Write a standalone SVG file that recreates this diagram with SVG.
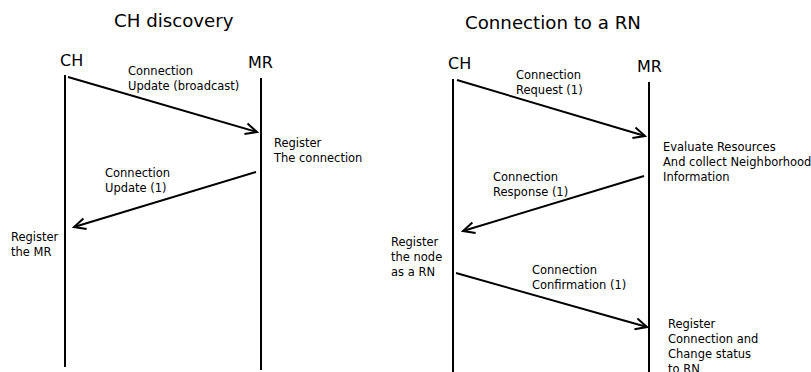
<svg xmlns="http://www.w3.org/2000/svg" width="811" height="372" viewBox="0 0 811 372">
<style>
  .title { font-family: "DejaVu Sans", sans-serif; font-size: 18.2px; fill: #000; }
  .actor { font-family: "DejaVu Sans", sans-serif; font-size: 16px; fill: #000; }
  .lbl { font-family: "DejaVu Sans", sans-serif; font-size: 11.5px; fill: #000; }
  .life { stroke: #000; stroke-width: 2; fill: none; }
  .msg { stroke: #000; stroke-width: 2; fill: none; marker-end: url(#arr); }
</style>
<defs>
  <marker id="arr" markerUnits="userSpaceOnUse" markerWidth="16" markerHeight="16" viewBox="-14 -8 16 16" refX="0" refY="0" orient="auto">
    <path d="M-11.5,-5.5 L0,0 L-11.5,5.5" fill="none" stroke="#000" stroke-width="2"/>
  </marker>
</defs>
<rect width="811" height="372" fill="#fff"/>

<text class="title" x="114" y="27">CH discovery</text>
<text class="title" x="465" y="29">Connection to a RN</text>

<g id="ch1">
  <text class="actor" x="60" y="66">CH</text>
  <line class="life" x1="65" y1="75" x2="65" y2="367"/>
</g>
<g id="mr1">
  <text class="actor" x="248" y="68">MR</text>
  <line class="life" x1="261" y1="78" x2="261" y2="370"/>
</g>
<g id="ch2">
  <text class="actor" x="448" y="69">CH</text>
  <line class="life" x1="453" y1="79" x2="453" y2="372"/>
</g>
<g id="mr2">
  <text class="actor" x="637" y="72">MR</text>
  <line class="life" x1="649" y1="82" x2="649" y2="372"/>
</g>

<g id="notes">
  <text class="lbl" x="274" y="147">Register</text>
  <text class="lbl" x="274" y="162">The connection</text>
  <text class="lbl" x="11" y="241">Register</text>
  <text class="lbl" x="11" y="256">the MR</text>
  <text class="lbl" x="663" y="151">Evaluate Resources</text>
  <text class="lbl" x="663" y="166">And collect Neighborhood</text>
  <text class="lbl" x="663" y="181">Information</text>
  <text class="lbl" x="391" y="246">Register</text>
  <text class="lbl" x="391" y="261">the node</text>
  <text class="lbl" x="391" y="276">as a RN</text>
  <text class="lbl" x="668" y="328">Register</text>
  <text class="lbl" x="668" y="343">Connection and</text>
  <text class="lbl" x="668" y="358">Change status</text>
  <text class="lbl" x="668" y="373">to RN</text>
</g>

<g id="connectors">
  <line class="msg" x1="68" y1="77" x2="257" y2="132"/>
  <text class="lbl" x="128" y="75">Connection</text>
  <text class="lbl" x="128" y="90">Update (broadcast)</text>

  <line class="msg" x1="256" y1="172" x2="74" y2="227"/>
  <text class="lbl" x="105" y="177">Connection</text>
  <text class="lbl" x="105" y="192">Update (1)</text>

  <line class="msg" x1="457" y1="80" x2="645" y2="136"/>
  <text class="lbl" x="516" y="79">Connection</text>
  <text class="lbl" x="516" y="94">Request (1)</text>

  <line class="msg" x1="644" y1="176" x2="463" y2="231"/>
  <text class="lbl" x="493" y="181">Connection</text>
  <text class="lbl" x="493" y="196">Response (1)</text>

  <line class="msg" x1="456" y1="273" x2="647" y2="327"/>
  <text class="lbl" x="532" y="274">Connection</text>
  <text class="lbl" x="532" y="289">Confirmation (1)</text>
</g>
</svg>
